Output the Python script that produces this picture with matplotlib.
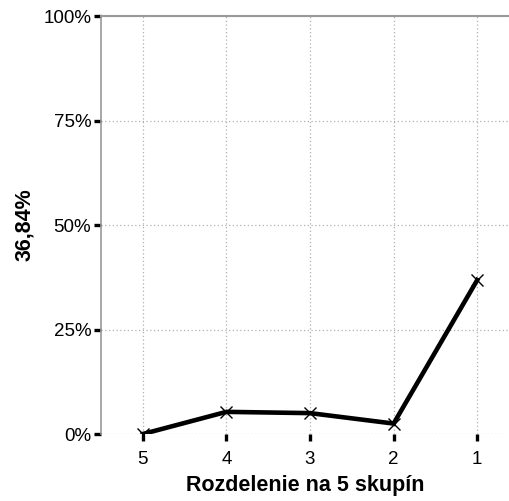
import matplotlib.pyplot as plt
from matplotlib.ticker import FuncFormatter

plt.rcParams['font.family'] = ['Liberation Sans', 'DejaVu Sans']

groups = ['5', '4', '3', '2', '1']
values = [0.0, 5.3, 5.0, 2.5, 36.84]
y_ticks = [0, 25, 50, 75, 100]

fig = plt.figure(figsize=(5.09, 5.01), dpi=100)
ax = fig.add_axes([0.1984, 0.1337, 0.8016, 0.8343])

x = list(range(len(groups)))
ax.plot(x, values, color='black', linewidth=3.3, marker='x', markersize=9,
        markeredgewidth=1, zorder=3)

ax.set_xlim(-0.5, 4.38)
ax.set_ylim(0, 100)
ax.set_xticks(x)
ax.set_xticklabels(groups)
ax.set_yticks(y_ticks)
ax.yaxis.set_major_formatter(FuncFormatter(lambda v, p: f'{v:.0f}%'))

ax.grid(True, color='#b0b0b0', linestyle=(0, (1, 2)), linewidth=0.9)
ax.set_axisbelow(True)
for side in ['right', 'bottom']:
    ax.spines[side].set_visible(False)
ax.spines['left'].set_color('#999999')
ax.spines['top'].set_color('#999999')
ax.spines['left'].set_linewidth(1.2)
ax.spines['top'].set_linewidth(1.5)

ax.tick_params(axis='both', direction='out', length=5, width=2.4,
               color='black', labelsize=13.5)
ax.tick_params(axis='x', pad=7)
ax.tick_params(axis='y', pad=2)

ax.set_xlabel('Rozdelenie na 5 skupín', fontsize=15.5, fontweight='bold',
              labelpad=5)
ax.set_ylabel('36,84%', fontsize=15.5, fontweight='bold', labelpad=6)

fig.savefig('out.png', dpi=100)
